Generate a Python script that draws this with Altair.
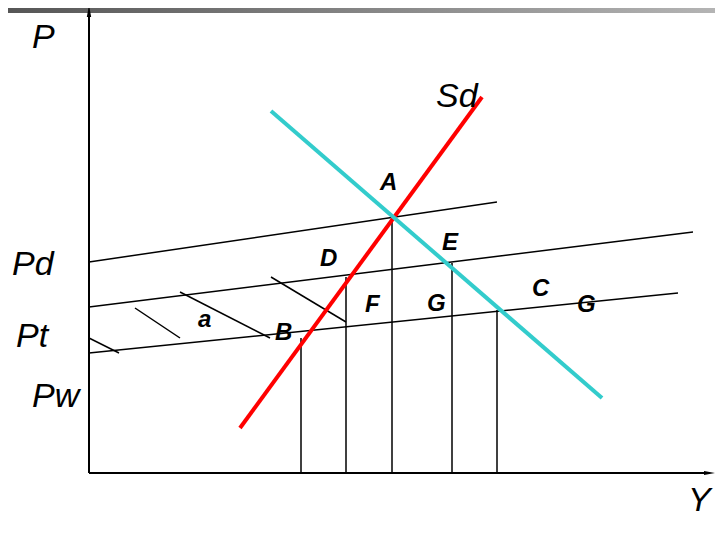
import altair as alt
import pandas as pd

# ---- diagram data (page pixel coordinates, y grows downward) ----
# sloping price lines
price_x0 = [89, 89, 89]
price_y0 = [262, 307, 353]
price_x1 = [497, 693, 678]
price_y1 = [202, 232, 293]

# hatch strokes (area a)
hatch_x0 = [89, 135, 180, 271]
hatch_y0 = [338, 308, 292, 277]
hatch_x1 = [119, 180, 270, 346]
hatch_y1 = [353, 338, 338, 322]

# vertical drop lines to the Y axis
drop_x = [301, 346, 392, 452, 497]
drop_top = [338, 277, 218, 263, 310]
drop_base = [473, 473, 473, 473, 473]

# supply (Sd) and demand curves
supply_x = [240, 482]
supply_y = [428, 97]
demand_x = [271, 602]
demand_y = [111, 398]

# axes (P axis, Y axis)
axis_x0 = [89, 89]
axis_y0 = [473, 473]
axis_x1 = [89, 706]
axis_y1 = [15, 473]

# labels
axis_labels = ["P", "Sd", "Pd", "Pt", "Pw", "Y"]
axis_label_x = [32, 436, 12, 16, 32, 688]
axis_label_y = [48, 107, 275, 347, 407, 511]

point_labels = ["A", "D", "E", "F", "G", "C", "G", "a", "B"]
point_label_x = [380, 320, 442, 365, 427, 532, 577, 198, 275]
point_label_y = [190, 266, 250, 312, 311, 296, 312, 327, 340]

# top decorative bar
bar_x0, bar_x1, bar_y0, bar_y1 = [0], [723], [7], [13]

W, H = 707, 513
xs = alt.Scale(domain=[8, 8 + W], nice=False, zero=False)
ys = alt.Scale(domain=[8, 8 + H], nice=False, zero=False, reverse=True)


def seg_df(x0, y0, x1, y1):
    return pd.DataFrame({"x": x0, "y": y0, "x2": x1, "y2": y1})


def rules(df, color, width):
    return alt.Chart(df).mark_rule(color=color, strokeWidth=width).encode(
        x=alt.X("x:Q", scale=xs, axis=None),
        y=alt.Y("y:Q", scale=ys, axis=None),
        x2="x2:Q",
        y2="y2:Q",
    )


bar = alt.Chart(seg_df(bar_x0, bar_y0, bar_x1, bar_y1)).mark_rect(
    fill=alt.Gradient(
        gradient="linear",
        stops=[alt.GradientStop(color="#555555", offset=0),
               alt.GradientStop(color="#b5b5b5", offset=1)],
        x1=0, x2=1, y1=0, y2=0,
    )
).encode(
    x=alt.X("x:Q", scale=xs, axis=None),
    y=alt.Y("y:Q", scale=ys, axis=None),
    x2="x2:Q",
    y2="y2:Q",
)

price = rules(seg_df(price_x0, price_y0, price_x1, price_y1), "black", 1.5)
hatch = rules(seg_df(hatch_x0, hatch_y0, hatch_x1, hatch_y1), "black", 1.5)
drops = rules(seg_df(drop_x, drop_top, drop_x, drop_base), "black", 1.5)
axes = rules(seg_df(axis_x0, axis_y0, axis_x1, axis_y1), "black", 2)
supply = rules(seg_df([supply_x[0]], [supply_y[0]], [supply_x[1]], [supply_y[1]]), "#ff0000", 4)
demand = rules(seg_df([demand_x[0]], [demand_y[0]], [demand_x[1]], [demand_y[1]]), "#33cccc", 4)

up_arrow = alt.Chart(pd.DataFrame({"x": [89], "y": [11]})).mark_point(
    shape="M0,-1L0.36,1L-0.36,1Z", size=144, filled=True, color="black", opacity=1
).encode(x=alt.X("x:Q", scale=xs, axis=None), y=alt.Y("y:Q", scale=ys, axis=None))

right_arrow = alt.Chart(pd.DataFrame({"x": [709.5], "y": [473]})).mark_point(
    shape="M1,0L-1,0.38L-1,-0.38Z", size=121, filled=True, color="black", opacity=1
).encode(x=alt.X("x:Q", scale=xs, axis=None), y=alt.Y("y:Q", scale=ys, axis=None))

big_text = alt.Chart(pd.DataFrame({"x": axis_label_x, "y": axis_label_y, "t": axis_labels})).mark_text(
    font="Liberation Sans", fontSize=34, fontStyle="italic", align="left", baseline="alphabetic", color="black"
).encode(x=alt.X("x:Q", scale=xs, axis=None), y=alt.Y("y:Q", scale=ys, axis=None), text="t:N")

small_text = alt.Chart(pd.DataFrame({"x": point_label_x, "y": point_label_y, "t": point_labels})).mark_text(
    font="Liberation Sans", fontSize=24, fontStyle="italic", fontWeight="bold", align="left",
    baseline="alphabetic", color="black"
).encode(x=alt.X("x:Q", scale=xs, axis=None), y=alt.Y("y:Q", scale=ys, axis=None), text="t:N")

chart = alt.layer(
    bar, price, hatch, drops, axes, supply, demand, up_arrow, right_arrow, big_text, small_text
).properties(
    width=W, height=H, padding=0, autosize=alt.AutoSizeParams(type="none"),
    background="white",
).configure_view(strokeWidth=0)

chart.save("out.html", embed_options={"renderer": "svg", "actions": False})
